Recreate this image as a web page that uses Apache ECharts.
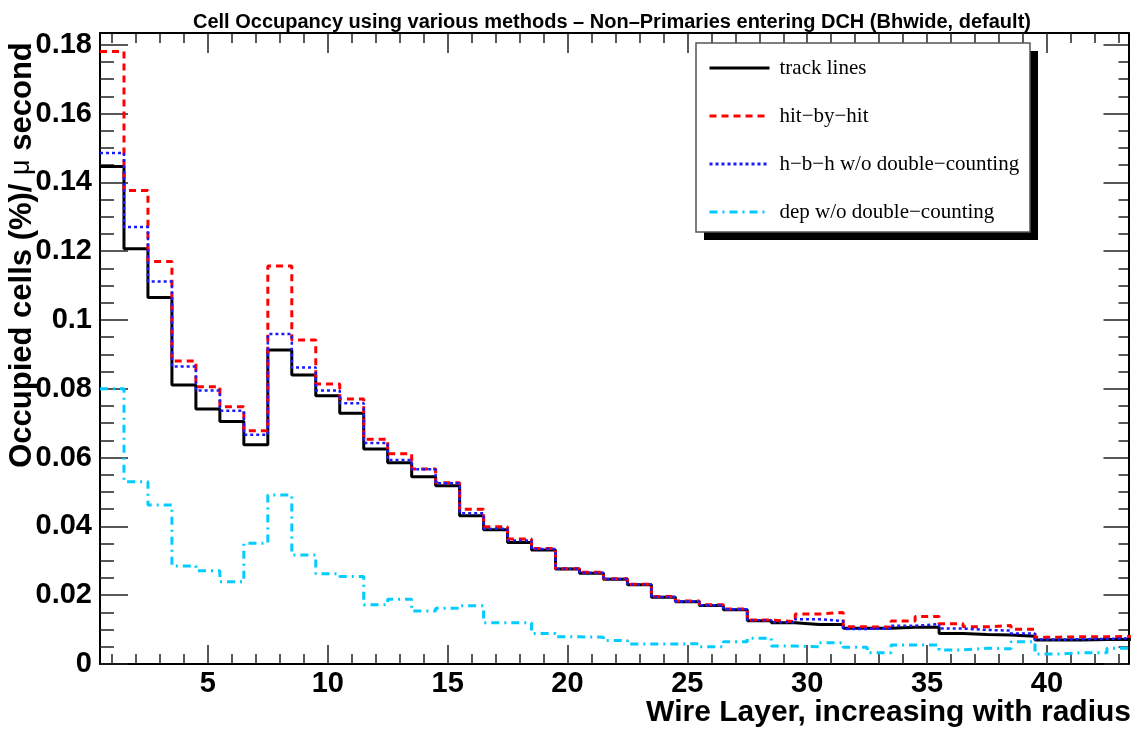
<!DOCTYPE html>
<html><head><meta charset="utf-8">
<script src="https://cdn.jsdelivr.net/npm/echarts@6/dist/echarts.min.js"></script>
<style>html,body{margin:0;padding:0;background:#fff}#c{width:1137px;height:731px}</style>
</head><body><div id="c"></div>
<script>
// ---------------- data ----------------
const layers = [1,2,3,4,5,6,7,8,9,10,11,12,13,14,15,16,17,18,19,20,21,22,23,24,25,26,27,28,29,30,31,32,33,34,35,36,37,38,39,40,41,42,43];
const trackLines = [0.1446,0.1207,0.1065,0.0811,0.0741,0.0705,0.0637,0.0913,0.0840,0.0780,0.0729,0.0625,0.0585,0.0544,0.0518,0.0431,0.0390,0.0353,0.0331,0.0276,0.0264,0.0246,0.0230,0.0194,0.0181,0.0170,0.0158,0.0126,0.0120,0.0115,0.0115,0.0104,0.0104,0.0107,0.0107,0.0089,0.0086,0.0084,0.0081,0.0070,0.0070,0.0071,0.0071];
const hitByHit = [0.1780,0.1376,0.1170,0.0881,0.0806,0.0748,0.0678,0.1157,0.0942,0.0814,0.0770,0.0653,0.0611,0.0567,0.0527,0.0450,0.0399,0.0363,0.0336,0.0277,0.0267,0.0248,0.0232,0.0196,0.0183,0.0172,0.0160,0.0128,0.0123,0.0145,0.0150,0.0108,0.0107,0.0125,0.0138,0.0117,0.0108,0.0112,0.0101,0.0078,0.0079,0.0079,0.0080];
const hbhNoDouble = [0.1485,0.1270,0.1112,0.0865,0.0795,0.0736,0.0666,0.0959,0.0862,0.0795,0.0758,0.0642,0.0593,0.0566,0.0525,0.0438,0.0393,0.0359,0.0334,0.0277,0.0265,0.0247,0.0231,0.0195,0.0182,0.0171,0.0159,0.0127,0.0121,0.0130,0.0125,0.0102,0.0103,0.0111,0.0116,0.0103,0.0099,0.0097,0.0089,0.0071,0.0072,0.0073,0.0075];
const depNoDouble = [0.0800,0.0530,0.0462,0.0285,0.0271,0.0239,0.0351,0.0491,0.0317,0.0262,0.0254,0.0172,0.0188,0.0154,0.0162,0.0169,0.0120,0.0120,0.0089,0.0079,0.0078,0.0068,0.0058,0.0058,0.0059,0.0050,0.0065,0.0075,0.0052,0.0050,0.0062,0.0049,0.0033,0.0055,0.0055,0.0041,0.0046,0.0044,0.0065,0.0029,0.0033,0.0033,0.0046];
const seriesNames = ['track lines','hit\u2212by\u2212hit','h\u2212b\u2212h w/o double\u2212counting','dep w/o double\u2212counting'];
const xMajorTicks = [5,10,15,20,25,30,35,40];
const xMinorTicks = layers;
const yMajorTicks = [0,0.02,0.04,0.06,0.08,0.1,0.12,0.14,0.16,0.18];
const yMinorTicks = [0.005,0.01,0.015,0.02,0.025,0.03,0.035,0.04,0.045,0.05,0.055,0.06,0.065,0.07,0.075,0.08,0.085,0.09,0.095,0.1,0.105,0.11,0.115,0.12,0.125,0.13,0.135,0.14,0.145,0.15,0.155,0.16,0.165,0.17,0.175,0.18];
const X_MIN = 0.5, X_MAX = 43.4, Y_MIN = 0, Y_MAX = 0.1834;
const titleText = 'Cell Occupancy using various methods \u2013 Non\u2013Primaries entering DCH (Bhwide, default)';
const xTitle = 'Wire Layer, increasing with radius';

// ---------------- chart ----------------
const SANS = '"Liberation Sans", Arial, Helvetica, sans-serif';
const SERIF = '"Liberation Serif", "Times New Roman", serif';
const TICK = {color:'#222', width:1.5};
const LEG = {left:696, top:43, width:334, height:189, shadow:8};

function xAx(pos, ticks, len, withLabels, withLine) {
  return {
    type:'value', position:pos, min:X_MIN, max:X_MAX, gridIndex:0,
    axisLine:{show:withLine, onZero:false, lineStyle:{color:'#000', width:2}},
    axisTick:{show:true, inside:true, length:len, customValues:ticks, lineStyle:TICK},
    axisLabel: withLabels ? {show:true, customValues:ticks, margin:5, color:'#000',
      fontFamily:SANS, fontWeight:'bold', fontSize:29} : {show:false},
    splitLine:{show:false}, minorTick:{show:false}
  };
}
function yAx(pos, ticks, len, withLabels, withLine) {
  return {
    type:'value', position:pos, min:Y_MIN, max:Y_MAX, gridIndex:0,
    axisLine:{show:withLine, onZero:false, lineStyle:{color:'#000', width:2}},
    axisTick:{show:true, inside:true, length:len, customValues:ticks, lineStyle:TICK},
    axisLabel: withLabels ? {show:true, customValues:ticks, margin:8, color:'#000',
      fontFamily:SANS, fontWeight:'bold', fontSize:29} : {show:false},
    splitLine:{show:false}, minorTick:{show:false}
  };
}
function stepSeries(name, vals, color, type, width) {
  const data = layers.map((c, i) => [c - 0.5, vals[i]]);
  data.push([layers[layers.length - 1] + 0.5, vals[vals.length - 1]]);
  return {
    name, type:'line', step:'end', data, symbol:'none', showSymbol:false,
    xAxisIndex:0, yAxisIndex:0, clip:true,
    lineStyle:{color, width, type, cap:'butt'}, itemStyle:{color},
    emphasis:{disabled:true}
  };
}

const chart = echarts.init(document.getElementById('c'), null, {renderer:'canvas'});
chart.setOption({
  animation:false,
  backgroundColor:'#fff',
  title:{text:titleText, left:193, top:12, padding:0,
    textStyle:{fontFamily:SANS, fontWeight:'bold', fontSize:20, color:'#000'}},
  grid:{left:100, right:8.5, top:33, bottom:67, outerBoundsMode:'none', containLabel:false},
  xAxis:[
    xAx('bottom', xMajorTicks, 19, true, true),
    xAx('bottom', xMinorTicks, 10, false, false),
    xAx('top', xMajorTicks, 20, false, true),
    xAx('top', xMinorTicks, 10, false, false)
  ],
  yAxis:[
    yAx('left', yMajorTicks, 28, true, true),
    yAx('left', yMinorTicks, 14, false, false),
    yAx('right', yMajorTicks, 25, false, true),
    yAx('right', yMinorTicks, 10, false, false)
  ],
  legend:{
    orient:'vertical', left:LEG.left, top:LEG.top, z:10,
    itemWidth:60, itemHeight:14, itemGap:24,
    padding:[13, 8, 10, 12],
    backgroundColor:'rgba(0,0,0,0)', borderWidth:0,
    itemStyle:{opacity:0},
    lineStyle:{width:3},
    textStyle:{fontFamily:SERIF, fontSize:21, color:'#000', lineHeight:24, padding:[0,0,0,5]},
    selectedMode:false,
    data:seriesNames
  },
  graphic:[
    {type:'rect', z:5, silent:true,
      shape:{x:LEG.left + LEG.shadow, y:LEG.top + LEG.shadow, width:LEG.width, height:LEG.height},
      style:{fill:'#000'}},
    {type:'rect', z:6, silent:true,
      shape:{x:LEG.left, y:LEG.top, width:LEG.width, height:LEG.height},
      style:{fill:'#fff', stroke:'#555', lineWidth:1.5}},
    {type:'text', x:22, y:255, rotation:Math.PI/2, silent:true,
      style:{text:'{b|Occupied cells (%)/ }{m|\u03bc}{b| second}',
        rich:{b:{fontFamily:SANS, fontWeight:'bold', fontSize:31, fill:'#000'},
              m:{fontFamily:SANS, fontWeight:'normal', fontSize:27, fill:'#000'}},
        align:'center', verticalAlign:'middle', textAlign:'center', textVerticalAlign:'middle', fill:'#000'}},
    {type:'text', x:1131, y:713, silent:true,
      style:{text:xTitle, fontFamily:SANS, fontWeight:'bold', fontSize:30, fill:'#000',
        align:'right', verticalAlign:'middle', textAlign:'right', textVerticalAlign:'middle'}}
  ],
  series:[
    stepSeries(seriesNames[0], trackLines, '#000000', 'solid', 3),
    stepSeries(seriesNames[1], hitByHit, '#ff0000', [7,5], 3),
    stepSeries(seriesNames[2], hbhNoDouble, '#1a1aff', [3,3], 2.5),
    stepSeries(seriesNames[3], depNoDouble, '#00ccff', [8,5,2,5], 3)
  ]
});
</script>
</body></html>
